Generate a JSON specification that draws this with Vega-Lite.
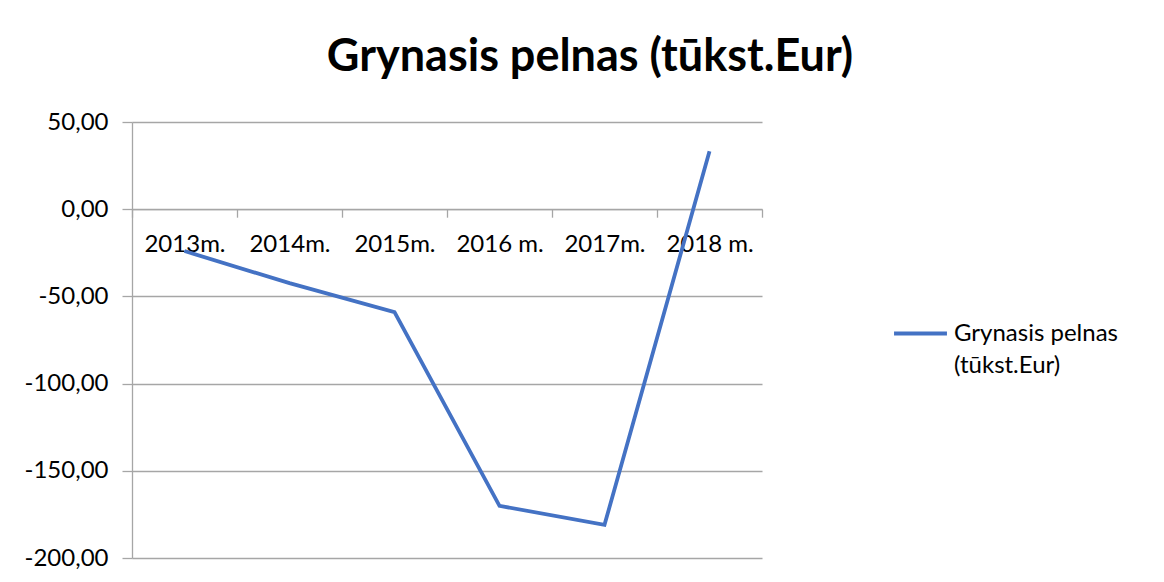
{
  "$schema": "https://vega.github.io/schema/vega-lite/v6.json",
  "width": 630,
  "height": 436,
  "autosize": {"type": "none"},
  "padding": {"left": 132, "top": 122, "right": 402, "bottom": 24},
  "background": "white",
  "title": {
    "text": "Grynasis pelnas (tūkst.Eur)",
    "font": "Lato",
    "fontSize": 45,
    "fontWeight": "bold",
    "color": "#000000",
    "anchor": "middle",
    "dx": 143,
    "offset": 30
  },
  "data": {
    "values": [
      {"year": "2013m.", "value": -24.0, "series": "Grynasis pelnas (tūkst.Eur)"},
      {"year": "2014m.", "value": -42.4, "series": "Grynasis pelnas (tūkst.Eur)"},
      {"year": "2015m.", "value": -59.0, "series": "Grynasis pelnas (tūkst.Eur)"},
      {"year": "2016 m.", "value": -170.1, "series": "Grynasis pelnas (tūkst.Eur)"},
      {"year": "2017m.", "value": -181.0, "series": "Grynasis pelnas (tūkst.Eur)"},
      {"year": "2018 m.", "value": 33.2, "series": "Grynasis pelnas (tūkst.Eur)"}
    ]
  },
  "mark": {"type": "line", "strokeWidth": 3.8},
  "encoding": {
    "x": {
      "field": "year",
      "type": "ordinal",
      "sort": null,
      "bandPosition": 0.5,
      "scale": {"type": "band", "paddingInner": 0, "paddingOuter": 0},
      "axis": {
        "title": null,
        "orient": "bottom",
        "offset": -348.8,
        "bandPosition": 0,
        "tickBand": "extent",
        "labelAngle": 0,
        "labelFont": "Lato",
        "labelFontSize": 24,
        "labelColor": "#000000",
        "labelPadding": 15,
        "labelBaseline": "top",
        "domainColor": "#a6a6a6",
        "domainWidth": 1.3,
        "tickColor": "#a6a6a6",
        "tickWidth": 1.3,
        "tickSize": 8,
        "grid": false
      }
    },
    "y": {
      "field": "value",
      "type": "quantitative",
      "scale": {"domain": [-200, 50], "nice": false, "zero": false},
      "axis": {
        "title": null,
        "values": [-200, -150, -100, -50, 0, 50],
        "format": ".2f",
        "labelFont": "Lato",
        "labelFontSize": 24,
        "labelColor": "#000000",
        "labelPadding": 14,
        "domainColor": "#a6a6a6",
        "domainWidth": 1.3,
        "tickColor": "#a6a6a6",
        "tickWidth": 1.3,
        "tickSize": 10,
        "grid": true,
        "gridColor": "#a6a6a6",
        "gridWidth": 1.3
      }
    },
    "color": {
      "field": "series",
      "type": "nominal",
      "scale": {"range": ["#4472C4"]},
      "legend": {
        "title": null,
        "orient": "none",
        "legendX": 760,
        "legendY": 183,
        "symbolType": "stroke",
        "symbolSize": 2800,
        "symbolStrokeWidth": 3.8,
        "labelFont": "Lato",
        "labelFontSize": 24,
        "labelColor": "#000000",
        "labelLimit": 300,
        "labelOffset": 5,
        "labelExpr": "['Grynasis pelnas', '(tūkst.Eur)']",
        "encode": {
          "labels": {"update": {"lineHeight": {"value": 32}}}
        }
      }
    }
  },
  "config": {
    "view": {"stroke": null},
    "locale": {
      "number": {
        "decimal": ",",
        "thousands": " ",
        "grouping": [3],
        "currency": ["", " €"],
        "minus": "-"
      }
    }
  }
}
